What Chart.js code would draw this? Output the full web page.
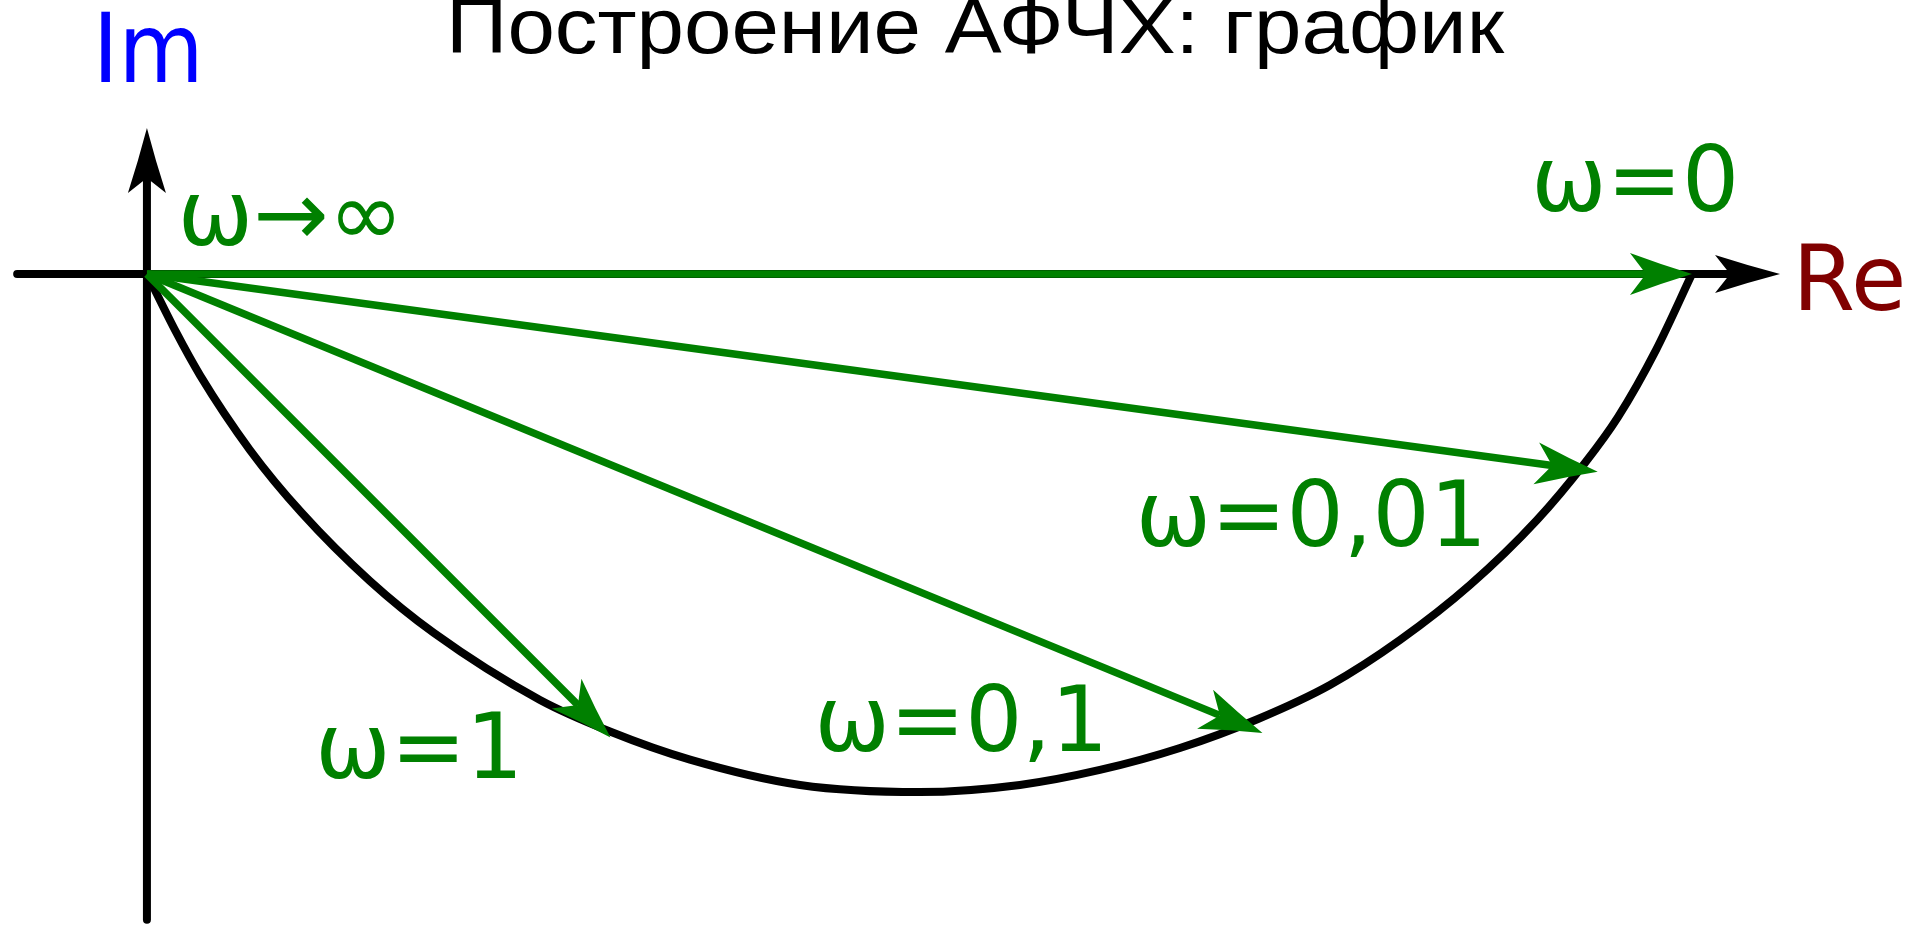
<!DOCTYPE html>
<html>
<head>
<meta charset="utf-8">
<script src="https://cdn.jsdelivr.net/npm/chart.js@4.4.1/dist/chart.umd.min.js"></script>
<style>
  html, body { margin: 0; padding: 0; background: #fff; overflow: hidden; }
  #wrap { width: 1916px; height: 930px; position: relative; }
</style>
</head>
<body>
<div id="wrap"><canvas id="afc"></canvas></div>
<script>
// годограф W(jω): Re и Im в долях от K (W(0) = K = 1)
const curveRe = [0, 0.0188, 0.0343, 0.0667, 0.1003, 0.1443, 0.1858, 0.2544, 0.2997, 0.3515, 0.4227, 0.5003,
                 0.5650, 0.6168, 0.6686, 0.7191, 0.7657, 0.8110, 0.8563, 0.8997, 0.9307, 0.9521, 0.9767, 1];
const curveIm = [0, -0.0375, -0.0654, -0.1139, -0.1547, -0.1987, -0.2324, -0.2757, -0.2961, -0.3143, -0.3307, -0.3353,
                 -0.3307, -0.3210, -0.3068, -0.2880, -0.2660, -0.2369, -0.2013, -0.1592, -0.1223, -0.0926, -0.0492, 0];

// векторы W(jω) для отдельных частот
const omegaLabels = ["ω=0", "ω=0,01", "ω=0,1", "ω=1"];
const vectorRe = [1, 0.939, 0.722, 0.300];
const vectorIm = [0, -0.128, -0.297, -0.300];

// концы осей
const reAxis = [-0.084, 1.057];
const imAxis = [-0.418, 0.0945];

const GREEN = "#008000";
const greenHead = { len: 62, notch: 46, half: 21 };
const blackHead = { len: 65, notch: 50, half: 19 };

const datasets = [];
vectorRe.forEach((re, i) => {
  datasets.push({
    label: omegaLabels[i],
    data: [{ x: 0, y: 0 }, { x: re, y: vectorIm[i] }],
    borderColor: GREEN,
    borderWidth: 7.5,
    head: greenHead,
  });
});
datasets.push({
  label: "W(jω)",
  data: curveRe.map((re, i) => ({ x: re, y: curveIm[i] })),
  borderColor: "#000",
  borderWidth: 8,
  cubicInterpolationMode: "monotone",
});
datasets.push({
  label: "Re",
  data: [{ x: reAxis[0], y: 0 }, { x: reAxis[1], y: 0 }],
  borderColor: "#000",
  borderWidth: 8,
  borderCapStyle: "round",
  head: blackHead,
});
datasets.push({
  label: "Im",
  data: [{ x: 0, y: imAxis[0] }, { x: 0, y: imAxis[1] }],
  borderColor: "#000",
  borderWidth: 8,
  borderCapStyle: "round",
  head: blackHead,
});
datasets.forEach(d => { d.pointRadius = 0; d.fill = false; });

// подписи: положение (левый край, базовая линия) в координатах графика
const textMarks = [
  { text: "Im", x: -0.035, y: 0.124, color: "#0000ff", size: 96, sx: 0.91 },
  { text: "Re", x: 1.065, y: -0.023, color: "#800000", size: 90 },
  { text: "ω→∞", x: 0.020, y: 0.019, color: GREEN, size: 90 },
  { text: omegaLabels[0], x: 0.896, y: 0.041, color: GREEN, size: 90 },
  { text: omegaLabels[1], x: 0.640, y: -0.176, color: GREEN, size: 90 },
  { text: omegaLabels[2], x: 0.432, y: -0.309, color: GREEN, size: 90 },
  { text: omegaLabels[3], x: 0.109, y: -0.326, color: GREEN, size: 90 },
];
const titleText = "Построение АФЧХ: график";

// линия вектора укорачивается до выемки наконечника, затем рисуется сам наконечник
const tips = {};
const arrowHeads = {
  id: "arrowHeads",
  beforeDatasetDraw(chart, args) {
    const head = chart.data.datasets[args.index].head;
    if (!head) return;
    const pts = args.meta.data;
    const tip = pts[pts.length - 1], prev = pts[pts.length - 2];
    const dx = tip.x - prev.x, dy = tip.y - prev.y;
    const len = Math.hypot(dx, dy);
    const t = { x: tip.x, y: tip.y, ux: dx / len, uy: dy / len };
    tips[args.index] = t;
    tip.x = t.x - t.ux * head.notch;
    tip.y = t.y - t.uy * head.notch;
  },
  afterDatasetDraw(chart, args) {
    const ds = chart.data.datasets[args.index];
    const t = tips[args.index];
    if (!ds.head || !t) return;
    const pts = args.meta.data;
    const tip = pts[pts.length - 1];
    tip.x = t.x; tip.y = t.y;
    const h = ds.head, ctx = chart.ctx;
    const px = -t.uy, py = t.ux;
    const bx = t.x - t.ux * h.len, by = t.y - t.uy * h.len;
    const nx = t.x - t.ux * h.notch, ny = t.y - t.uy * h.notch;
    const mx = t.x - t.ux * h.len * 0.5, my = t.y - t.uy * h.len * 0.5;
    const c = h.half * 0.45;
    ctx.save();
    ctx.fillStyle = ds.borderColor;
    ctx.beginPath();
    ctx.moveTo(t.x, t.y);
    ctx.quadraticCurveTo(mx + px * c, my + py * c, bx + px * h.half, by + py * h.half);
    ctx.lineTo(nx, ny);
    ctx.lineTo(bx - px * h.half, by - py * h.half);
    ctx.quadraticCurveTo(mx - px * c, my - py * c, t.x, t.y);
    ctx.closePath();
    ctx.fill();
    ctx.restore();
  },
};

const labelsPlugin = {
  id: "labelsPlugin",
  afterDatasetsDraw(chart) {
    const ctx = chart.ctx, xs = chart.scales.x, ys = chart.scales.y;
    ctx.textBaseline = "alphabetic";
    textMarks.forEach(m => {
      ctx.save();
      ctx.font = m.size + "px 'DejaVu Sans'";
      ctx.fillStyle = m.color;
      ctx.textAlign = "left";
      ctx.translate(xs.getPixelForValue(m.x), ys.getPixelForValue(m.y));
      ctx.scale(m.sx || 1, 1);
      ctx.fillText(m.text, 0, 0);
      ctx.restore();
    });
    // заголовок узким шрифтом, сжатый по ширине
    ctx.save();
    ctx.font = "78px 'Liberation Sans Narrow', 'Liberation Sans', sans-serif";
    ctx.fillStyle = "#000";
    const w = ctx.measureText(titleText).width;
    const k = 1058 / w;
    ctx.translate(xs.getPixelForValue(0.536), ys.getPixelForValue(0.143));
    ctx.scale(k, 1);
    ctx.textAlign = "center";
    ctx.fillText(titleText, 0, 0);
    ctx.restore();
  },
};

new Chart(document.getElementById("afc"), {
  type: "line",
  data: { datasets: datasets },
  plugins: [arrowHeads, labelsPlugin],
  options: {
    responsive: true,
    maintainAspectRatio: false,
    devicePixelRatio: 1,
    animation: false,
    layout: { padding: 0 },
    scales: {
      x: { type: "linear", display: false, min: -0.0951, max: 1.145 },
      y: { type: "linear", display: false, min: -0.4246, max: 0.1774 },
    },
    plugins: {
      legend: { display: false },
      tooltip: { enabled: false },
      title: { display: false },
    },
  },
});
</script>
</body>
</html>
